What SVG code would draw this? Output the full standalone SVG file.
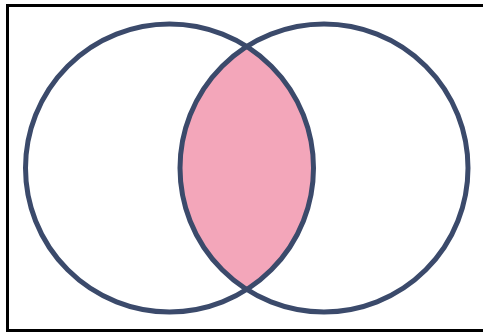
<svg xmlns="http://www.w3.org/2000/svg" width="483" height="333" viewBox="0 0 483 333">
  <style>
    .frame { fill: #ffffff; stroke: #000000; stroke-width: 3; }
    .set { fill: none; stroke: #3b4a6b; stroke-width: 5; }
    .lens { fill: #f3a6ba; stroke: none; }
  </style>
  <rect x="0" y="0" width="483" height="333" fill="#ffffff"/>
  <rect class="frame" x="7.5" y="5.5" width="482" height="325"/>
  <g id="intersection">
    <path class="lens" d="M 246.75 46.5 A 144 144 0 0 1 246.75 289.5 A 144 144 0 0 1 246.75 46.5 Z"/>
  </g>
  <g id="setA">
    <circle class="set" cx="169.5" cy="168" r="144"/>
  </g>
  <g id="setB">
    <circle class="set" cx="324" cy="168" r="144"/>
  </g>
</svg>
